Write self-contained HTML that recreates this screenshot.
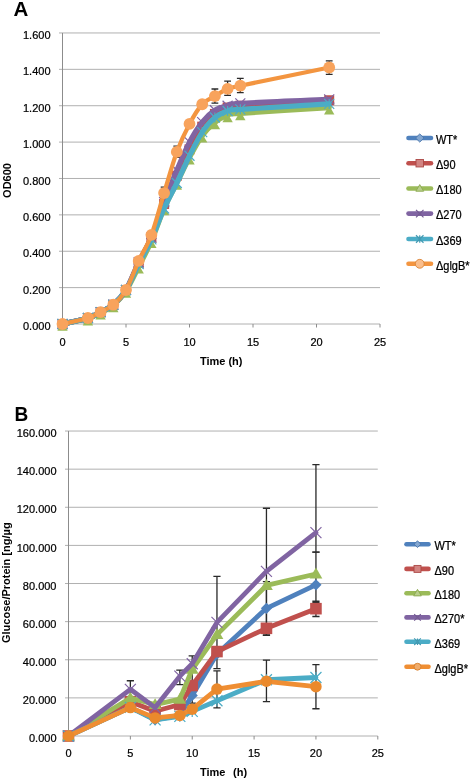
<!DOCTYPE html>
<html><head><meta charset="utf-8"><style>
html,body{margin:0;padding:0;background:#fff;width:472px;height:779px;overflow:hidden}
svg{display:block;font-family:"Liberation Sans", sans-serif;will-change:transform}
text{font-family:"Liberation Sans", sans-serif;fill:#000}
</style></head><body>
<svg width="472" height="779" viewBox="0 0 472 779">
<rect width="472" height="779" fill="#fff"/>
<text x="13.5" y="15.7" font-size="20.5" font-weight="bold">A</text>
<text transform="translate(14.4,420.5) scale(0.93,1)" font-size="20.5" font-weight="bold">B</text>
<line x1="59.00" y1="324.00" x2="380.00" y2="324.00" stroke="#b0b0b0" stroke-width="1"/>
<text x="50.50" y="330.10" text-anchor="end" font-size="11" stroke="#000" stroke-width="0.22">0.000</text>
<line x1="59.00" y1="287.62" x2="380.00" y2="287.62" stroke="#b0b0b0" stroke-width="1"/>
<text x="50.50" y="293.72" text-anchor="end" font-size="11" stroke="#000" stroke-width="0.22">0.200</text>
<line x1="59.00" y1="251.24" x2="380.00" y2="251.24" stroke="#b0b0b0" stroke-width="1"/>
<text x="50.50" y="257.34" text-anchor="end" font-size="11" stroke="#000" stroke-width="0.22">0.400</text>
<line x1="59.00" y1="214.86" x2="380.00" y2="214.86" stroke="#b0b0b0" stroke-width="1"/>
<text x="50.50" y="220.96" text-anchor="end" font-size="11" stroke="#000" stroke-width="0.22">0.600</text>
<line x1="59.00" y1="178.48" x2="380.00" y2="178.48" stroke="#b0b0b0" stroke-width="1"/>
<text x="50.50" y="184.58" text-anchor="end" font-size="11" stroke="#000" stroke-width="0.22">0.800</text>
<line x1="59.00" y1="142.10" x2="380.00" y2="142.10" stroke="#b0b0b0" stroke-width="1"/>
<text x="50.50" y="148.20" text-anchor="end" font-size="11" stroke="#000" stroke-width="0.22">1.000</text>
<line x1="59.00" y1="105.72" x2="380.00" y2="105.72" stroke="#b0b0b0" stroke-width="1"/>
<text x="50.50" y="111.82" text-anchor="end" font-size="11" stroke="#000" stroke-width="0.22">1.200</text>
<line x1="59.00" y1="69.34" x2="380.00" y2="69.34" stroke="#b0b0b0" stroke-width="1"/>
<text x="50.50" y="75.44" text-anchor="end" font-size="11" stroke="#000" stroke-width="0.22">1.400</text>
<line x1="59.00" y1="32.96" x2="380.00" y2="32.96" stroke="#b0b0b0" stroke-width="1"/>
<text x="50.50" y="39.06" text-anchor="end" font-size="11" stroke="#000" stroke-width="0.22">1.600</text>
<line x1="62.50" y1="32.96" x2="62.50" y2="324.00" stroke="#8c8c8c" stroke-width="1"/>
<line x1="62.50" y1="324.00" x2="62.50" y2="327.50" stroke="#8c8c8c" stroke-width="1"/>
<text x="62.50" y="346.00" text-anchor="middle" font-size="11" stroke="#000" stroke-width="0.22">0</text>
<line x1="126.00" y1="324.00" x2="126.00" y2="327.50" stroke="#8c8c8c" stroke-width="1"/>
<text x="126.00" y="346.00" text-anchor="middle" font-size="11" stroke="#000" stroke-width="0.22">5</text>
<line x1="189.50" y1="324.00" x2="189.50" y2="327.50" stroke="#8c8c8c" stroke-width="1"/>
<text x="189.50" y="346.00" text-anchor="middle" font-size="11" stroke="#000" stroke-width="0.22">10</text>
<line x1="253.00" y1="324.00" x2="253.00" y2="327.50" stroke="#8c8c8c" stroke-width="1"/>
<text x="253.00" y="346.00" text-anchor="middle" font-size="11" stroke="#000" stroke-width="0.22">15</text>
<line x1="316.50" y1="324.00" x2="316.50" y2="327.50" stroke="#8c8c8c" stroke-width="1"/>
<text x="316.50" y="346.00" text-anchor="middle" font-size="11" stroke="#000" stroke-width="0.22">20</text>
<line x1="380.00" y1="324.00" x2="380.00" y2="327.50" stroke="#8c8c8c" stroke-width="1"/>
<text x="380.00" y="346.00" text-anchor="middle" font-size="11" stroke="#000" stroke-width="0.22">25</text>
<path d="M164.10,198.49 L164.10,187.21 M160.70,198.49 L167.50,198.49 M160.70,187.21 L167.50,187.21" stroke="#2a2a2a" stroke-width="1.3" fill="none"/>
<path d="M176.80,157.38 L176.80,146.10 M173.40,157.38 L180.20,157.38 M173.40,146.10 L180.20,146.10" stroke="#2a2a2a" stroke-width="1.3" fill="none"/>
<path d="M214.90,103.17 L214.90,88.99 M211.50,103.17 L218.30,103.17 M211.50,88.99 L218.30,88.99" stroke="#2a2a2a" stroke-width="1.3" fill="none"/>
<path d="M227.60,95.35 L227.60,81.16 M224.20,95.35 L231.00,95.35 M224.20,81.16 L231.00,81.16" stroke="#2a2a2a" stroke-width="1.3" fill="none"/>
<path d="M240.30,92.62 L240.30,78.43 M236.90,92.62 L243.70,92.62 M236.90,78.43 L243.70,78.43" stroke="#2a2a2a" stroke-width="1.3" fill="none"/>
<path d="M329.20,74.43 L329.20,60.97 M325.80,74.43 L332.60,74.43 M325.80,60.97 L332.60,60.97" stroke="#2a2a2a" stroke-width="1.3" fill="none"/>
<path d="M62.50,324.00 C66.73,323.00 81.55,319.97 87.90,318.00 C94.25,316.03 96.37,314.39 100.60,312.18 C104.83,309.96 109.07,308.42 113.30,304.72 C117.53,301.02 121.77,296.78 126.00,289.98 C130.23,283.19 134.47,272.55 138.70,263.97 C142.93,255.39 147.17,248.21 151.40,238.51 C155.63,228.81 159.87,215.77 164.10,205.76 C168.33,195.76 172.57,187.42 176.80,178.48 C181.03,169.54 185.27,160.14 189.50,152.10 C193.73,144.07 197.97,136.19 202.20,130.28 C206.43,124.36 210.67,119.97 214.90,116.63 C219.13,113.30 223.37,111.63 227.60,110.27 C231.83,108.90 223.37,109.66 240.30,108.45 C257.23,107.24 314.38,103.90 329.20,102.99" fill="none" stroke="#4F81BD" stroke-width="5.2" stroke-linejoin="round" stroke-linecap="round"/>
<path d="M62.50,318.50 L68.00,324.00 L62.50,329.50 L57.00,324.00 Z" fill="#4F81BD"/>
<path d="M87.90,312.50 L93.40,318.00 L87.90,323.50 L82.40,318.00 Z" fill="#4F81BD"/>
<path d="M100.60,306.68 L106.10,312.18 L100.60,317.68 L95.10,312.18 Z" fill="#4F81BD"/>
<path d="M113.30,299.22 L118.80,304.72 L113.30,310.22 L107.80,304.72 Z" fill="#4F81BD"/>
<path d="M126.00,284.48 L131.50,289.98 L126.00,295.48 L120.50,289.98 Z" fill="#4F81BD"/>
<path d="M138.70,258.47 L144.20,263.97 L138.70,269.47 L133.20,263.97 Z" fill="#4F81BD"/>
<path d="M151.40,233.01 L156.90,238.51 L151.40,244.01 L145.90,238.51 Z" fill="#4F81BD"/>
<path d="M164.10,200.26 L169.60,205.76 L164.10,211.26 L158.60,205.76 Z" fill="#4F81BD"/>
<path d="M176.80,172.98 L182.30,178.48 L176.80,183.98 L171.30,178.48 Z" fill="#4F81BD"/>
<path d="M189.50,146.60 L195.00,152.10 L189.50,157.60 L184.00,152.10 Z" fill="#4F81BD"/>
<path d="M202.20,124.78 L207.70,130.28 L202.20,135.78 L196.70,130.28 Z" fill="#4F81BD"/>
<path d="M214.90,111.13 L220.40,116.63 L214.90,122.13 L209.40,116.63 Z" fill="#4F81BD"/>
<path d="M227.60,104.77 L233.10,110.27 L227.60,115.77 L222.10,110.27 Z" fill="#4F81BD"/>
<path d="M240.30,102.95 L245.80,108.45 L240.30,113.95 L234.80,108.45 Z" fill="#4F81BD"/>
<path d="M329.20,97.49 L334.70,102.99 L329.20,108.49 L323.70,102.99 Z" fill="#4F81BD"/>
<path d="M62.50,324.00 C66.73,323.00 81.55,319.97 87.90,318.00 C94.25,316.03 96.37,314.39 100.60,312.18 C104.83,309.96 109.07,308.42 113.30,304.72 C117.53,301.02 121.77,296.93 126.00,289.98 C130.23,283.04 134.47,271.79 138.70,263.06 C142.93,254.33 147.17,247.45 151.40,237.60 C155.63,227.74 159.87,214.25 164.10,203.95 C168.33,193.64 172.57,184.85 176.80,175.75 C181.03,166.66 185.27,157.56 189.50,149.38 C193.73,141.19 197.97,132.55 202.20,126.64 C206.43,120.73 210.67,117.09 214.90,113.91 C219.13,110.72 223.37,108.90 227.60,107.54 C231.83,106.17 223.37,106.93 240.30,105.72 C257.23,104.51 314.38,101.17 329.20,100.26" fill="none" stroke="#C0504D" stroke-width="5.2" stroke-linejoin="round" stroke-linecap="round"/>
<rect x="57.50" y="319.00" width="10.00" height="10.00" fill="#C0504D"/>
<rect x="82.90" y="313.00" width="10.00" height="10.00" fill="#C0504D"/>
<rect x="95.60" y="307.18" width="10.00" height="10.00" fill="#C0504D"/>
<rect x="108.30" y="299.72" width="10.00" height="10.00" fill="#C0504D"/>
<rect x="121.00" y="284.98" width="10.00" height="10.00" fill="#C0504D"/>
<rect x="133.70" y="258.06" width="10.00" height="10.00" fill="#C0504D"/>
<rect x="146.40" y="232.60" width="10.00" height="10.00" fill="#C0504D"/>
<rect x="159.10" y="198.95" width="10.00" height="10.00" fill="#C0504D"/>
<rect x="171.80" y="170.75" width="10.00" height="10.00" fill="#C0504D"/>
<rect x="184.50" y="144.38" width="10.00" height="10.00" fill="#C0504D"/>
<rect x="197.20" y="121.64" width="10.00" height="10.00" fill="#C0504D"/>
<rect x="209.90" y="108.91" width="10.00" height="10.00" fill="#C0504D"/>
<rect x="222.60" y="102.54" width="10.00" height="10.00" fill="#C0504D"/>
<rect x="235.30" y="100.72" width="10.00" height="10.00" fill="#C0504D"/>
<rect x="324.20" y="95.26" width="10.00" height="10.00" fill="#C0504D"/>
<path d="M62.50,324.00 C66.73,323.09 81.55,320.42 87.90,318.54 C94.25,316.66 96.37,314.90 100.60,312.72 C104.83,310.54 109.07,309.08 113.30,305.45 C117.53,301.81 121.77,297.35 126.00,290.89 C130.23,284.44 134.47,274.98 138.70,266.70 C142.93,258.43 147.17,250.94 151.40,241.24 C155.63,231.53 159.87,218.19 164.10,208.49 C168.33,198.79 172.57,191.52 176.80,183.03 C181.03,174.54 185.27,165.44 189.50,157.56 C193.73,149.68 197.97,141.58 202.20,135.73 C206.43,129.88 210.67,125.85 214.90,122.45 C219.13,119.06 223.37,116.88 227.60,115.36 C231.83,113.84 223.37,114.66 240.30,113.36 C257.23,112.06 314.38,108.51 329.20,107.54" fill="none" stroke="#9BBB59" stroke-width="5.2" stroke-linejoin="round" stroke-linecap="round"/>
<path d="M62.50,322.00 L67.70,330.84 L57.30,330.84 Z" fill="#9BBB59"/>
<path d="M87.90,316.54 L93.10,325.38 L82.70,325.38 Z" fill="#9BBB59"/>
<path d="M100.60,310.72 L105.80,319.56 L95.40,319.56 Z" fill="#9BBB59"/>
<path d="M113.30,303.45 L118.50,312.29 L108.10,312.29 Z" fill="#9BBB59"/>
<path d="M126.00,288.89 L131.20,297.73 L120.80,297.73 Z" fill="#9BBB59"/>
<path d="M138.70,264.70 L143.90,273.54 L133.50,273.54 Z" fill="#9BBB59"/>
<path d="M151.40,239.24 L156.60,248.08 L146.20,248.08 Z" fill="#9BBB59"/>
<path d="M164.10,206.49 L169.30,215.33 L158.90,215.33 Z" fill="#9BBB59"/>
<path d="M176.80,181.03 L182.00,189.87 L171.60,189.87 Z" fill="#9BBB59"/>
<path d="M189.50,155.56 L194.70,164.40 L184.30,164.40 Z" fill="#9BBB59"/>
<path d="M202.20,133.73 L207.40,142.57 L197.00,142.57 Z" fill="#9BBB59"/>
<path d="M214.90,120.45 L220.10,129.29 L209.70,129.29 Z" fill="#9BBB59"/>
<path d="M227.60,113.36 L232.80,122.20 L222.40,122.20 Z" fill="#9BBB59"/>
<path d="M240.30,111.36 L245.50,120.20 L235.10,120.20 Z" fill="#9BBB59"/>
<path d="M329.20,105.54 L334.40,114.38 L324.00,114.38 Z" fill="#9BBB59"/>
<path d="M62.50,324.00 C66.73,323.00 81.55,319.97 87.90,318.00 C94.25,316.03 96.37,314.39 100.60,312.18 C104.83,309.96 109.07,308.42 113.30,304.72 C117.53,301.02 121.77,297.08 126.00,289.98 C130.23,282.89 134.47,270.89 138.70,262.15 C142.93,253.42 147.17,247.60 151.40,237.60 C155.63,227.59 159.87,213.34 164.10,202.13 C168.33,190.91 172.57,180.30 176.80,170.29 C181.03,160.29 185.27,150.13 189.50,142.10 C193.73,134.07 197.97,127.40 202.20,122.09 C206.43,116.79 210.67,113.00 214.90,110.27 C219.13,107.54 223.37,106.87 227.60,105.72 C231.83,104.57 223.37,104.42 240.30,103.36 C257.23,102.29 314.38,100.02 329.20,99.35" fill="none" stroke="#8064A2" stroke-width="5.2" stroke-linejoin="round" stroke-linecap="round"/>
<path d="M57.50,319.00 L67.50,329.00 M67.50,319.00 L57.50,329.00" stroke="#8064A2" stroke-width="1.2" fill="none"/>
<path d="M82.90,313.00 L92.90,323.00 M92.90,313.00 L82.90,323.00" stroke="#8064A2" stroke-width="1.2" fill="none"/>
<path d="M95.60,307.18 L105.60,317.18 M105.60,307.18 L95.60,317.18" stroke="#8064A2" stroke-width="1.2" fill="none"/>
<path d="M108.30,299.72 L118.30,309.72 M118.30,299.72 L108.30,309.72" stroke="#8064A2" stroke-width="1.2" fill="none"/>
<path d="M121.00,284.98 L131.00,294.98 M131.00,284.98 L121.00,294.98" stroke="#8064A2" stroke-width="1.2" fill="none"/>
<path d="M133.70,257.15 L143.70,267.15 M143.70,257.15 L133.70,267.15" stroke="#8064A2" stroke-width="1.2" fill="none"/>
<path d="M146.40,232.60 L156.40,242.60 M156.40,232.60 L146.40,242.60" stroke="#8064A2" stroke-width="1.2" fill="none"/>
<path d="M159.10,197.13 L169.10,207.13 M169.10,197.13 L159.10,207.13" stroke="#8064A2" stroke-width="1.2" fill="none"/>
<path d="M171.80,165.29 L181.80,175.29 M181.80,165.29 L171.80,175.29" stroke="#8064A2" stroke-width="1.2" fill="none"/>
<path d="M184.50,137.10 L194.50,147.10 M194.50,137.10 L184.50,147.10" stroke="#8064A2" stroke-width="1.2" fill="none"/>
<path d="M197.20,117.09 L207.20,127.09 M207.20,117.09 L197.20,127.09" stroke="#8064A2" stroke-width="1.2" fill="none"/>
<path d="M209.90,105.27 L219.90,115.27 M219.90,105.27 L209.90,115.27" stroke="#8064A2" stroke-width="1.2" fill="none"/>
<path d="M222.60,100.72 L232.60,110.72 M232.60,100.72 L222.60,110.72" stroke="#8064A2" stroke-width="1.2" fill="none"/>
<path d="M235.30,98.36 L245.30,108.36 M245.30,98.36 L235.30,108.36" stroke="#8064A2" stroke-width="1.2" fill="none"/>
<path d="M324.20,94.35 L334.20,104.35 M334.20,94.35 L324.20,104.35" stroke="#8064A2" stroke-width="1.2" fill="none"/>
<path d="M62.50,324.00 C66.73,323.00 81.55,319.97 87.90,318.00 C94.25,316.03 96.37,314.39 100.60,312.18 C104.83,309.96 109.07,308.42 113.30,304.72 C117.53,301.02 121.77,296.78 126.00,289.98 C130.23,283.19 134.47,272.40 138.70,263.97 C142.93,255.54 147.17,248.66 151.40,239.42 C155.63,230.17 159.87,217.89 164.10,208.49 C168.33,199.10 172.57,191.82 176.80,183.03 C181.03,174.24 185.27,164.23 189.50,155.74 C193.73,147.25 197.97,138.46 202.20,132.10 C206.43,125.73 210.67,121.06 214.90,117.54 C219.13,114.03 223.37,112.36 227.60,111.00 C231.83,109.63 223.37,110.54 240.30,109.36 C257.23,108.18 314.38,104.81 329.20,103.90" fill="none" stroke="#4BACC6" stroke-width="5.2" stroke-linejoin="round" stroke-linecap="round"/>
<path d="M57.50,319.00 L67.50,329.00 M67.50,319.00 L57.50,329.00 M62.50,319.00 L62.50,329.00" stroke="#4BACC6" stroke-width="1.2" fill="none"/>
<path d="M82.90,313.00 L92.90,323.00 M92.90,313.00 L82.90,323.00 M87.90,313.00 L87.90,323.00" stroke="#4BACC6" stroke-width="1.2" fill="none"/>
<path d="M95.60,307.18 L105.60,317.18 M105.60,307.18 L95.60,317.18 M100.60,307.18 L100.60,317.18" stroke="#4BACC6" stroke-width="1.2" fill="none"/>
<path d="M108.30,299.72 L118.30,309.72 M118.30,299.72 L108.30,309.72 M113.30,299.72 L113.30,309.72" stroke="#4BACC6" stroke-width="1.2" fill="none"/>
<path d="M121.00,284.98 L131.00,294.98 M131.00,284.98 L121.00,294.98 M126.00,284.98 L126.00,294.98" stroke="#4BACC6" stroke-width="1.2" fill="none"/>
<path d="M133.70,258.97 L143.70,268.97 M143.70,258.97 L133.70,268.97 M138.70,258.97 L138.70,268.97" stroke="#4BACC6" stroke-width="1.2" fill="none"/>
<path d="M146.40,234.42 L156.40,244.42 M156.40,234.42 L146.40,244.42 M151.40,234.42 L151.40,244.42" stroke="#4BACC6" stroke-width="1.2" fill="none"/>
<path d="M159.10,203.49 L169.10,213.49 M169.10,203.49 L159.10,213.49 M164.10,203.49 L164.10,213.49" stroke="#4BACC6" stroke-width="1.2" fill="none"/>
<path d="M171.80,178.03 L181.80,188.03 M181.80,178.03 L171.80,188.03 M176.80,178.03 L176.80,188.03" stroke="#4BACC6" stroke-width="1.2" fill="none"/>
<path d="M184.50,150.74 L194.50,160.74 M194.50,150.74 L184.50,160.74 M189.50,150.74 L189.50,160.74" stroke="#4BACC6" stroke-width="1.2" fill="none"/>
<path d="M197.20,127.10 L207.20,137.10 M207.20,127.10 L197.20,137.10 M202.20,127.10 L202.20,137.10" stroke="#4BACC6" stroke-width="1.2" fill="none"/>
<path d="M209.90,112.54 L219.90,122.54 M219.90,112.54 L209.90,122.54 M214.90,112.54 L214.90,122.54" stroke="#4BACC6" stroke-width="1.2" fill="none"/>
<path d="M222.60,106.00 L232.60,116.00 M232.60,106.00 L222.60,116.00 M227.60,106.00 L227.60,116.00" stroke="#4BACC6" stroke-width="1.2" fill="none"/>
<path d="M235.30,104.36 L245.30,114.36 M245.30,104.36 L235.30,114.36 M240.30,104.36 L240.30,114.36" stroke="#4BACC6" stroke-width="1.2" fill="none"/>
<path d="M324.20,98.90 L334.20,108.90 M334.20,98.90 L324.20,108.90 M329.20,98.90 L329.20,108.90" stroke="#4BACC6" stroke-width="1.2" fill="none"/>
<path d="M62.50,324.00 C66.73,323.00 81.55,319.97 87.90,318.00 C94.25,316.03 96.37,314.39 100.60,312.18 C104.83,309.96 109.07,308.42 113.30,304.72 C117.53,301.02 121.77,297.29 126.00,289.98 C130.23,282.68 134.47,270.07 138.70,260.88 C142.93,251.69 147.17,246.18 151.40,234.87 C155.63,223.56 159.87,206.86 164.10,193.03 C168.33,179.21 172.57,163.44 176.80,151.92 C181.03,140.40 185.27,131.85 189.50,123.91 C193.73,115.97 197.97,108.90 202.20,104.26 C206.43,99.63 210.67,98.66 214.90,96.08 C219.13,93.50 223.37,90.53 227.60,88.80 C231.83,87.08 223.37,89.26 240.30,85.71 C257.23,82.16 314.38,70.55 329.20,67.52" fill="none" stroke="#F39540" stroke-width="4.2" stroke-linejoin="round" stroke-linecap="round"/>
<circle cx="62.50" cy="324.00" r="5.90" fill="#F8A35C"/>
<circle cx="87.90" cy="318.00" r="5.90" fill="#F8A35C"/>
<circle cx="100.60" cy="312.18" r="5.90" fill="#F8A35C"/>
<circle cx="113.30" cy="304.72" r="5.90" fill="#F8A35C"/>
<circle cx="126.00" cy="289.98" r="5.90" fill="#F8A35C"/>
<circle cx="138.70" cy="260.88" r="5.90" fill="#F8A35C"/>
<circle cx="151.40" cy="234.87" r="5.90" fill="#F8A35C"/>
<circle cx="164.10" cy="193.03" r="5.90" fill="#F8A35C"/>
<circle cx="176.80" cy="151.92" r="5.90" fill="#F8A35C"/>
<circle cx="189.50" cy="123.91" r="5.90" fill="#F8A35C"/>
<circle cx="202.20" cy="104.26" r="5.90" fill="#F8A35C"/>
<circle cx="214.90" cy="96.08" r="5.90" fill="#F8A35C"/>
<circle cx="227.60" cy="88.80" r="5.90" fill="#F8A35C"/>
<circle cx="240.30" cy="85.71" r="5.90" fill="#F8A35C"/>
<circle cx="329.20" cy="67.52" r="5.90" fill="#F8A35C"/>
<line x1="408.50" y1="138.00" x2="431.00" y2="138.00" stroke="#4F81BD" stroke-width="4.6" stroke-linecap="round"/>
<g stroke="#4774AA" stroke-width="0.9"><path d="M419.75,133.88 L423.88,138.00 L419.75,142.12 L415.62,138.00 Z" fill="#83A6D0"/></g>
<text transform="translate(436.00,143.80) scale(0.9,1)" font-size="12.2" stroke="#000" stroke-width="0.25">WT*</text>
<line x1="408.50" y1="163.20" x2="431.00" y2="163.20" stroke="#C0504D" stroke-width="4.6" stroke-linecap="round"/>
<g stroke="#AC4845" stroke-width="0.9"><rect x="416.00" y="159.45" width="7.50" height="7.50" fill="#D28482"/></g>
<text transform="translate(436.00,169.00) scale(0.9,1)" font-size="12.2" stroke="#000" stroke-width="0.25">&#916;90</text>
<line x1="408.50" y1="188.50" x2="431.00" y2="188.50" stroke="#9BBB59" stroke-width="4.6" stroke-linecap="round"/>
<g stroke="#8BA850" stroke-width="0.9"><path d="M419.75,184.60 L423.65,191.23 L415.85,191.23 Z" fill="#B9CF8A"/></g>
<text transform="translate(436.00,194.30) scale(0.9,1)" font-size="12.2" stroke="#000" stroke-width="0.25">&#916;180</text>
<line x1="408.50" y1="213.60" x2="431.00" y2="213.60" stroke="#8064A2" stroke-width="4.6" stroke-linecap="round"/>
<g stroke="#735A91" stroke-width="0.9"><path d="M416.00,209.85 L423.50,217.35 M423.50,209.85 L416.00,217.35" stroke="#735A91" stroke-width="1.2" fill="none"/></g>
<text transform="translate(436.00,219.40) scale(0.9,1)" font-size="12.2" stroke="#000" stroke-width="0.25">&#916;270</text>
<line x1="408.50" y1="239.00" x2="431.00" y2="239.00" stroke="#4BACC6" stroke-width="4.6" stroke-linecap="round"/>
<g stroke="#439AB2" stroke-width="0.9"><path d="M416.00,235.25 L423.50,242.75 M423.50,235.25 L416.00,242.75 M419.75,235.25 L419.75,242.75" stroke="#439AB2" stroke-width="1.2" fill="none"/></g>
<text transform="translate(436.00,244.80) scale(0.9,1)" font-size="12.2" stroke="#000" stroke-width="0.25">&#916;369</text>
<line x1="408.50" y1="263.80" x2="431.00" y2="263.80" stroke="#F39540" stroke-width="4.6" stroke-linecap="round"/>
<g stroke="#DA8639" stroke-width="0.9"><circle cx="419.75" cy="263.80" r="4.43" fill="#FABE8C"/></g>
<text transform="translate(436.00,269.60) scale(0.9,1)" font-size="12.2" stroke="#000" stroke-width="0.25">&#916;glgB*</text>
<line x1="65.00" y1="736.00" x2="377.80" y2="736.00" stroke="#b0b0b0" stroke-width="1"/>
<text x="56.50" y="742.10" text-anchor="end" font-size="11" stroke="#000" stroke-width="0.22">0.000</text>
<line x1="65.00" y1="697.88" x2="377.80" y2="697.88" stroke="#b0b0b0" stroke-width="1"/>
<text x="56.50" y="703.98" text-anchor="end" font-size="11" stroke="#000" stroke-width="0.22">20.000</text>
<line x1="65.00" y1="659.76" x2="377.80" y2="659.76" stroke="#b0b0b0" stroke-width="1"/>
<text x="56.50" y="665.86" text-anchor="end" font-size="11" stroke="#000" stroke-width="0.22">40.000</text>
<line x1="65.00" y1="621.64" x2="377.80" y2="621.64" stroke="#b0b0b0" stroke-width="1"/>
<text x="56.50" y="627.74" text-anchor="end" font-size="11" stroke="#000" stroke-width="0.22">60.000</text>
<line x1="65.00" y1="583.52" x2="377.80" y2="583.52" stroke="#b0b0b0" stroke-width="1"/>
<text x="56.50" y="589.62" text-anchor="end" font-size="11" stroke="#000" stroke-width="0.22">80.000</text>
<line x1="65.00" y1="545.40" x2="377.80" y2="545.40" stroke="#b0b0b0" stroke-width="1"/>
<text x="56.50" y="551.50" text-anchor="end" font-size="11" stroke="#000" stroke-width="0.22">100.000</text>
<line x1="65.00" y1="507.28" x2="377.80" y2="507.28" stroke="#b0b0b0" stroke-width="1"/>
<text x="56.50" y="513.38" text-anchor="end" font-size="11" stroke="#000" stroke-width="0.22">120.000</text>
<line x1="65.00" y1="469.16" x2="377.80" y2="469.16" stroke="#b0b0b0" stroke-width="1"/>
<text x="56.50" y="475.26" text-anchor="end" font-size="11" stroke="#000" stroke-width="0.22">140.000</text>
<line x1="65.00" y1="431.04" x2="377.80" y2="431.04" stroke="#b0b0b0" stroke-width="1"/>
<text x="56.50" y="437.14" text-anchor="end" font-size="11" stroke="#000" stroke-width="0.22">160.000</text>
<line x1="68.50" y1="431.04" x2="68.50" y2="736.00" stroke="#8c8c8c" stroke-width="1"/>
<line x1="68.50" y1="736.00" x2="68.50" y2="739.50" stroke="#8c8c8c" stroke-width="1"/>
<text x="68.50" y="757.00" text-anchor="middle" font-size="11" stroke="#000" stroke-width="0.22">0</text>
<line x1="130.36" y1="736.00" x2="130.36" y2="739.50" stroke="#8c8c8c" stroke-width="1"/>
<text x="130.36" y="757.00" text-anchor="middle" font-size="11" stroke="#000" stroke-width="0.22">5</text>
<line x1="192.22" y1="736.00" x2="192.22" y2="739.50" stroke="#8c8c8c" stroke-width="1"/>
<text x="192.22" y="757.00" text-anchor="middle" font-size="11" stroke="#000" stroke-width="0.22">10</text>
<line x1="254.08" y1="736.00" x2="254.08" y2="739.50" stroke="#8c8c8c" stroke-width="1"/>
<text x="254.08" y="757.00" text-anchor="middle" font-size="11" stroke="#000" stroke-width="0.22">15</text>
<line x1="315.94" y1="736.00" x2="315.94" y2="739.50" stroke="#8c8c8c" stroke-width="1"/>
<text x="315.94" y="757.00" text-anchor="middle" font-size="11" stroke="#000" stroke-width="0.22">20</text>
<line x1="377.80" y1="736.00" x2="377.80" y2="739.50" stroke="#8c8c8c" stroke-width="1"/>
<text x="377.80" y="757.00" text-anchor="middle" font-size="11" stroke="#000" stroke-width="0.22">25</text>
<path d="M266.45,635.36 L266.45,581.61 M262.85,635.36 L270.05,635.36 M262.85,581.61 L270.05,581.61" stroke="#2a2a2a" stroke-width="1.3" fill="none"/>
<path d="M315.94,616.49 L315.94,601.25 M312.34,616.49 L319.54,616.49 M312.34,601.25 L319.54,601.25" stroke="#2a2a2a" stroke-width="1.3" fill="none"/>
<path d="M315.94,602.58 L315.94,552.07 M312.34,602.58 L319.54,602.58 M312.34,552.07 L319.54,552.07" stroke="#2a2a2a" stroke-width="1.3" fill="none"/>
<path d="M130.36,697.88 L130.36,680.73 M126.76,697.88 L133.96,697.88 M126.76,680.73 L133.96,680.73" stroke="#2a2a2a" stroke-width="1.3" fill="none"/>
<path d="M179.85,684.54 L179.85,670.05 M176.25,684.54 L183.45,684.54 M176.25,670.05 L183.45,670.05" stroke="#2a2a2a" stroke-width="1.3" fill="none"/>
<path d="M192.22,703.03 L192.22,655.95 M188.62,703.03 L195.82,703.03 M188.62,655.95 L195.82,655.95" stroke="#2a2a2a" stroke-width="1.3" fill="none"/>
<path d="M216.96,668.53 L216.96,576.28 M213.36,668.53 L220.56,668.53 M213.36,576.28 L220.56,576.28" stroke="#2a2a2a" stroke-width="1.3" fill="none"/>
<path d="M266.45,634.98 L266.45,508.23 M262.85,634.98 L270.05,634.98 M262.85,508.23 L270.05,508.23" stroke="#2a2a2a" stroke-width="1.3" fill="none"/>
<path d="M315.94,552.07 L315.94,464.59 M312.34,552.07 L319.54,552.07 M312.34,464.59 L319.54,464.59" stroke="#2a2a2a" stroke-width="1.3" fill="none"/>
<path d="M216.96,707.79 L216.96,670.81 M213.36,707.79 L220.56,707.79 M213.36,670.81 L220.56,670.81" stroke="#2a2a2a" stroke-width="1.3" fill="none"/>
<path d="M266.45,701.69 L266.45,660.14 M262.85,701.69 L270.05,701.69 M262.85,660.14 L270.05,660.14" stroke="#2a2a2a" stroke-width="1.3" fill="none"/>
<path d="M315.94,708.74 L315.94,664.72 M312.34,708.74 L319.54,708.74 M312.34,664.72 L319.54,664.72" stroke="#2a2a2a" stroke-width="1.3" fill="none"/>
<path d="M68.50,736.00 L130.36,707.41 L155.10,719.80 L179.85,715.03 L192.22,695.40 L216.96,654.04 L266.45,608.30 L315.94,584.85" fill="none" stroke="#4F81BD" stroke-width="4.8" stroke-linejoin="round" stroke-linecap="round"/>
<path d="M68.50,730.40 L74.10,736.00 L68.50,741.60 L62.90,736.00 Z" fill="#4F81BD"/>
<path d="M130.36,701.81 L135.96,707.41 L130.36,713.01 L124.76,707.41 Z" fill="#4F81BD"/>
<path d="M155.10,714.20 L160.70,719.80 L155.10,725.40 L149.50,719.80 Z" fill="#4F81BD"/>
<path d="M179.85,709.43 L185.45,715.03 L179.85,720.63 L174.25,715.03 Z" fill="#4F81BD"/>
<path d="M192.22,689.80 L197.82,695.40 L192.22,701.00 L186.62,695.40 Z" fill="#4F81BD"/>
<path d="M216.96,648.44 L222.56,654.04 L216.96,659.64 L211.36,654.04 Z" fill="#4F81BD"/>
<path d="M266.45,602.70 L272.05,608.30 L266.45,613.90 L260.85,608.30 Z" fill="#4F81BD"/>
<path d="M315.94,579.25 L321.54,584.85 L315.94,590.45 L310.34,584.85 Z" fill="#4F81BD"/>
<path d="M68.50,736.00 L130.36,701.69 L155.10,711.22 L179.85,704.55 L192.22,685.49 L216.96,651.56 L266.45,628.31 L315.94,608.68" fill="none" stroke="#C0504D" stroke-width="4.8" stroke-linejoin="round" stroke-linecap="round"/>
<rect x="62.70" y="730.20" width="11.60" height="11.60" fill="#C0504D"/>
<rect x="124.56" y="695.89" width="11.60" height="11.60" fill="#C0504D"/>
<rect x="149.30" y="705.42" width="11.60" height="11.60" fill="#C0504D"/>
<rect x="174.05" y="698.75" width="11.60" height="11.60" fill="#C0504D"/>
<rect x="186.42" y="679.69" width="11.60" height="11.60" fill="#C0504D"/>
<rect x="211.16" y="645.76" width="11.60" height="11.60" fill="#C0504D"/>
<rect x="260.65" y="622.51" width="11.60" height="11.60" fill="#C0504D"/>
<rect x="310.14" y="602.88" width="11.60" height="11.60" fill="#C0504D"/>
<path d="M68.50,736.00 L130.36,698.07 L155.10,704.55 L179.85,699.21 L192.22,669.29 L216.96,634.60 L266.45,585.43 L315.94,573.99" fill="none" stroke="#9BBB59" stroke-width="4.8" stroke-linejoin="round" stroke-linecap="round"/>
<path d="M68.50,729.60 L74.90,740.48 L62.10,740.48 Z" fill="#9BBB59"/>
<path d="M130.36,691.67 L136.76,702.55 L123.96,702.55 Z" fill="#9BBB59"/>
<path d="M155.10,698.15 L161.50,709.03 L148.70,709.03 Z" fill="#9BBB59"/>
<path d="M179.85,692.81 L186.25,703.69 L173.45,703.69 Z" fill="#9BBB59"/>
<path d="M192.22,662.89 L198.62,673.77 L185.82,673.77 Z" fill="#9BBB59"/>
<path d="M216.96,628.20 L223.36,639.08 L210.56,639.08 Z" fill="#9BBB59"/>
<path d="M266.45,579.03 L272.85,589.91 L260.05,589.91 Z" fill="#9BBB59"/>
<path d="M315.94,567.59 L322.34,578.47 L309.54,578.47 Z" fill="#9BBB59"/>
<path d="M68.50,736.00 L130.36,689.30 L155.10,707.60 L179.85,676.15 L192.22,663.76 L216.96,622.40 L266.45,571.32 L315.94,532.63" fill="none" stroke="#8064A2" stroke-width="4.8" stroke-linejoin="round" stroke-linecap="round"/>
<path d="M63.00,730.50 L74.00,741.50 M74.00,730.50 L63.00,741.50" stroke="#8064A2" stroke-width="1.2" fill="none"/>
<path d="M124.86,683.80 L135.86,694.80 M135.86,683.80 L124.86,694.80" stroke="#8064A2" stroke-width="1.2" fill="none"/>
<path d="M149.60,702.10 L160.60,713.10 M160.60,702.10 L149.60,713.10" stroke="#8064A2" stroke-width="1.2" fill="none"/>
<path d="M174.35,670.65 L185.35,681.65 M185.35,670.65 L174.35,681.65" stroke="#8064A2" stroke-width="1.2" fill="none"/>
<path d="M186.72,658.26 L197.72,669.26 M197.72,658.26 L186.72,669.26" stroke="#8064A2" stroke-width="1.2" fill="none"/>
<path d="M211.46,616.90 L222.46,627.90 M222.46,616.90 L211.46,627.90" stroke="#8064A2" stroke-width="1.2" fill="none"/>
<path d="M260.95,565.82 L271.95,576.82 M271.95,565.82 L260.95,576.82" stroke="#8064A2" stroke-width="1.2" fill="none"/>
<path d="M310.44,527.13 L321.44,538.13 M321.44,527.13 L310.44,538.13" stroke="#8064A2" stroke-width="1.2" fill="none"/>
<path d="M68.50,736.00 L130.36,707.41 L155.10,719.80 L179.85,716.37 L192.22,711.41 L216.96,700.74 L266.45,679.77 L315.94,677.49" fill="none" stroke="#4BACC6" stroke-width="4.8" stroke-linejoin="round" stroke-linecap="round"/>
<path d="M63.00,730.50 L74.00,741.50 M74.00,730.50 L63.00,741.50 M68.50,730.50 L68.50,741.50" stroke="#4BACC6" stroke-width="1.2" fill="none"/>
<path d="M124.86,701.91 L135.86,712.91 M135.86,701.91 L124.86,712.91 M130.36,701.91 L130.36,712.91" stroke="#4BACC6" stroke-width="1.2" fill="none"/>
<path d="M149.60,714.30 L160.60,725.30 M160.60,714.30 L149.60,725.30 M155.10,714.30 L155.10,725.30" stroke="#4BACC6" stroke-width="1.2" fill="none"/>
<path d="M174.35,710.87 L185.35,721.87 M185.35,710.87 L174.35,721.87 M179.85,710.87 L179.85,721.87" stroke="#4BACC6" stroke-width="1.2" fill="none"/>
<path d="M186.72,705.91 L197.72,716.91 M197.72,705.91 L186.72,716.91 M192.22,705.91 L192.22,716.91" stroke="#4BACC6" stroke-width="1.2" fill="none"/>
<path d="M211.46,695.24 L222.46,706.24 M222.46,695.24 L211.46,706.24 M216.96,695.24 L216.96,706.24" stroke="#4BACC6" stroke-width="1.2" fill="none"/>
<path d="M260.95,674.27 L271.95,685.27 M271.95,674.27 L260.95,685.27 M266.45,674.27 L266.45,685.27" stroke="#4BACC6" stroke-width="1.2" fill="none"/>
<path d="M310.44,671.99 L321.44,682.99 M321.44,671.99 L310.44,682.99 M315.94,671.99 L315.94,682.99" stroke="#4BACC6" stroke-width="1.2" fill="none"/>
<path d="M68.50,736.00 L130.36,707.60 L155.10,717.89 L179.85,715.42 L192.22,709.13 L216.96,689.11 L266.45,681.30 L315.94,686.63" fill="none" stroke="#EF8E33" stroke-width="4.8" stroke-linejoin="round" stroke-linecap="round"/>
<circle cx="68.50" cy="736.00" r="5.75" fill="#EA892C"/>
<circle cx="130.36" cy="707.60" r="5.75" fill="#EA892C"/>
<circle cx="155.10" cy="717.89" r="5.75" fill="#EA892C"/>
<circle cx="179.85" cy="715.42" r="5.75" fill="#EA892C"/>
<circle cx="192.22" cy="709.13" r="5.75" fill="#EA892C"/>
<circle cx="216.96" cy="689.11" r="5.75" fill="#EA892C"/>
<circle cx="266.45" cy="681.30" r="5.75" fill="#EA892C"/>
<circle cx="315.94" cy="686.63" r="5.75" fill="#EA892C"/>
<line x1="406.50" y1="544.20" x2="428.50" y2="544.20" stroke="#4F81BD" stroke-width="4.6" stroke-linecap="round"/>
<g stroke="#4774AA" stroke-width="0.9"><path d="M417.50,540.84 L420.86,544.20 L417.50,547.56 L414.14,544.20 Z" fill="#83A6D0"/></g>
<text transform="translate(434.50,550.00) scale(0.9,1)" font-size="12.2" stroke="#000" stroke-width="0.25">WT*</text>
<line x1="406.50" y1="568.90" x2="428.50" y2="568.90" stroke="#C0504D" stroke-width="4.6" stroke-linecap="round"/>
<g stroke="#AC4845" stroke-width="0.9"><rect x="414.02" y="565.42" width="6.96" height="6.96" fill="#D28482"/></g>
<text transform="translate(434.50,574.70) scale(0.9,1)" font-size="12.2" stroke="#000" stroke-width="0.25">&#916;90</text>
<line x1="406.50" y1="593.20" x2="428.50" y2="593.20" stroke="#9BBB59" stroke-width="4.6" stroke-linecap="round"/>
<g stroke="#8BA850" stroke-width="0.9"><path d="M417.50,589.36 L421.34,595.89 L413.66,595.89 Z" fill="#B9CF8A"/></g>
<text transform="translate(434.50,599.00) scale(0.9,1)" font-size="12.2" stroke="#000" stroke-width="0.25">&#916;180</text>
<line x1="406.50" y1="617.40" x2="428.50" y2="617.40" stroke="#8064A2" stroke-width="4.6" stroke-linecap="round"/>
<g stroke="#735A91" stroke-width="0.9"><path d="M414.20,614.10 L420.80,620.70 M420.80,614.10 L414.20,620.70" stroke="#735A91" stroke-width="1.2" fill="none"/></g>
<text transform="translate(434.50,623.20) scale(0.9,1)" font-size="12.2" stroke="#000" stroke-width="0.25">&#916;270*</text>
<line x1="406.50" y1="641.70" x2="428.50" y2="641.70" stroke="#4BACC6" stroke-width="4.6" stroke-linecap="round"/>
<g stroke="#439AB2" stroke-width="0.9"><path d="M414.20,638.40 L420.80,645.00 M420.80,638.40 L414.20,645.00 M417.50,638.40 L417.50,645.00" stroke="#439AB2" stroke-width="1.2" fill="none"/></g>
<text transform="translate(434.50,647.50) scale(0.9,1)" font-size="12.2" stroke="#000" stroke-width="0.25">&#916;369</text>
<line x1="406.50" y1="666.70" x2="428.50" y2="666.70" stroke="#EF8E33" stroke-width="4.6" stroke-linecap="round"/>
<g stroke="#D77F2D" stroke-width="0.9"><circle cx="417.50" cy="666.70" r="3.45" fill="#F0AC6B"/></g>
<text transform="translate(434.50,672.50) scale(0.9,1)" font-size="12.2" stroke="#000" stroke-width="0.25">&#916;glgB*</text>
<text transform="translate(11,180.5) rotate(-90)" text-anchor="middle" font-size="11" font-weight="bold">OD600</text>
<text transform="translate(10.4,582.7) rotate(-90)" text-anchor="middle" font-size="11" font-weight="bold">Glucose/Protein [ng/&#181;g</text>
<text x="221.2" y="365" text-anchor="middle" font-size="11" font-weight="bold">Time (h)</text>
<text x="200" y="776" font-size="11" font-weight="bold" xml:space="preserve">Time  <tspan dx="1.5">(h)</tspan></text>
</svg>
</body></html>
